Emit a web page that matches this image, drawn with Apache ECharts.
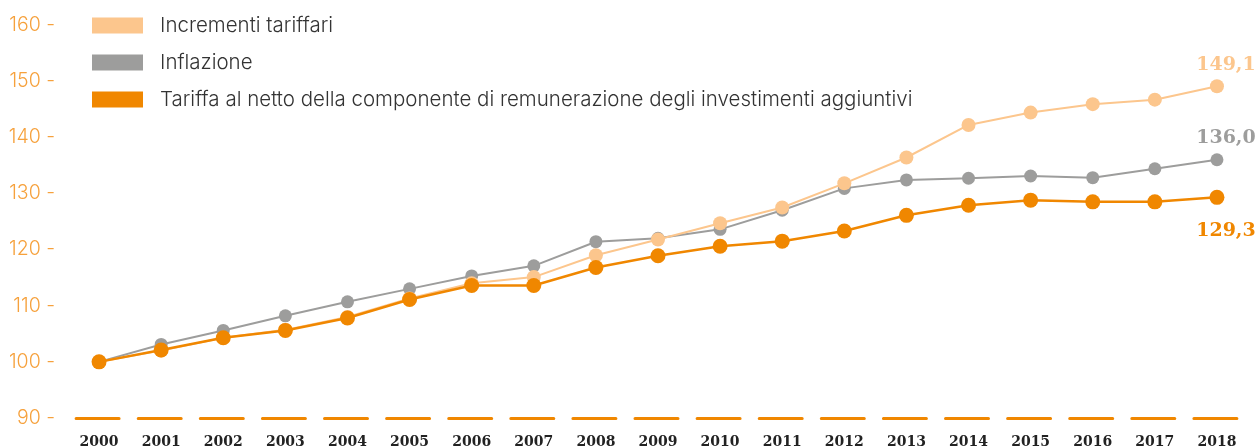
<!DOCTYPE html>
<html>
<head>
<meta charset="utf-8">
<script src="https://cdn.jsdelivr.net/npm/echarts@6/dist/echarts.min.js"></script>
<style>
  html, body { margin: 0; padding: 0; background: #fff; }
  #chart { width: 1255px; height: 447px; }
</style>
</head>
<body>
<div id="chart"></div>
<script>
const years = ['2000', '2001', '2002', '2003', '2004', '2005', '2006', '2007', '2008', '2009',
  '2010', '2011', '2012', '2013', '2014', '2015', '2016', '2017', '2018'];

const incrementi = [100, 102.0, 104.3, 105.7, 108.0, 111.3, 114.0, 115.1, 119.0, 121.8,
  124.7, 127.5, 131.8, 136.4, 142.2, 144.4, 145.9, 146.7, 149.1];
const inflazione = [100, 103.1, 105.6, 108.2, 110.7, 113.0, 115.3, 117.1, 121.4, 122.0,
  123.6, 127.0, 130.9, 132.4, 132.7, 133.1, 132.8, 134.4, 136.0];
const tariffa = [100, 102.1, 104.3, 105.6, 107.8, 111.1, 113.6, 113.6, 116.8, 118.9,
  120.6, 121.5, 123.3, 126.1, 127.9, 128.8, 128.5, 128.5, 129.3];

const endLabels = ['149,1', '136,0', '129,3'];

const NAME_INC = 'Incrementi tariffari';
const NAME_INF = 'Inflazione';
const NAME_TAR = 'Tariffa al netto della componente di remunerazione degli investimenti aggiuntivi';

const C_PEACH = '#fcc68d';
const C_GRAY = '#9d9d9c';
const C_ORANGE = '#f08700';

const serif = 'DejaVu Serif';
const sans = 'Inter';

// last point gets the value label
function withEndLabel(values, text, color, position, offset) {
  return values.map((v, i) => {
    if (i !== values.length - 1) return v;
    return {
      value: v,
      label: {
        show: true,
        position: position,
        offset: offset,
        formatter: text,
        color: color,
        fontFamily: serif,
        fontWeight: 'bold',
        fontSize: 19,
      },
    };
  });
}

function lineSeries(name, color, size, width, z, data) {
  return {
    name: name,
    type: 'line',
    data: data,
    z: z,
    symbol: 'circle',
    symbolSize: size,
    showSymbol: true,
    itemStyle: { color: color },
    lineStyle: { color: color, width: width },
    emphasis: { disabled: true },
    animation: false,
  };
}

const chart = echarts.init(document.getElementById('chart'), null, { renderer: 'canvas' });
chart.setOption({
  backgroundColor: '#fff',
  grid: { left: 68, right: 7, top: 25, bottom: 29, containLabel: false, outerBoundsMode: 'none' },
  legend: {
    data: [NAME_INC, NAME_INF, NAME_TAR],
    orient: 'vertical',
    left: 92,
    top: 15,
    padding: 0,
    icon: 'rect',
    itemWidth: 51,
    itemHeight: 16,
    itemGap: 16,
    selectedMode: false,
    textStyle: {
      fontFamily: sans,
      fontWeight: 300,
      fontSize: 20.5,
      color: '#333',
      padding: [0, 0, 0, 12],
    },
  },
  xAxis: {
    type: 'category',
    data: years,
    boundaryGap: true,
    axisTick: { show: false },
    axisLine: {
      show: true,
      lineStyle: { color: C_ORANGE, width: 3, type: [43, 19.1], dashOffset: 54 },
    },
    axisLabel: {
      margin: 17,
      fontFamily: serif,
      fontWeight: 'bold',
      fontSize: 14,
      color: '#222',
    },
  },
  yAxis: {
    type: 'value',
    min: 90,
    max: 160,
    interval: 10,
    axisLine: { show: false },
    axisTick: { show: false },
    splitLine: { show: false },
    axisLabel: {
      margin: 13,
      formatter: '{value} -',
      fontFamily: sans,
      fontWeight: 300,
      fontSize: 19.5,
      color: '#f6a13c',
      padding: [0, 0, 5, 0],
    },
  },
  series: [
    lineSeries(NAME_INF, C_GRAY, 13, 2, 2,
      withEndLabel(inflazione, endLabels[1], C_GRAY, 'top', [9, -1])),
    lineSeries(NAME_INC, C_PEACH, 14, 2, 3,
      withEndLabel(incrementi, endLabels[0], C_PEACH, 'top', [9, 0])),
    lineSeries(NAME_TAR, C_ORANGE, 15, 2.5, 4,
      withEndLabel(tariffa, endLabels[2], C_ORANGE, 'bottom', [9, 12])),
  ],
});
</script>
</body>
</html>
